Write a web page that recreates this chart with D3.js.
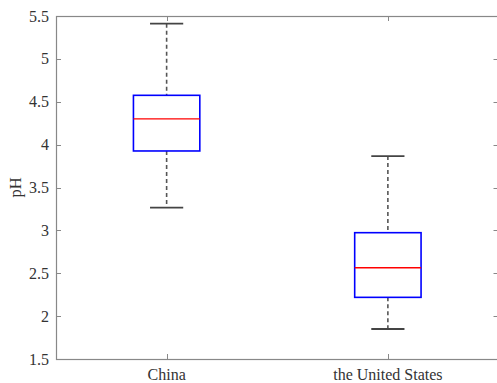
<!DOCTYPE html>
<meta charset="utf-8">
<title>pH boxplot</title>
<style>
    body { margin: 0; background: #fff; }
    svg { display: block; font-family: "Liberation Serif", "Times New Roman", serif; }
</style>
<body>
<script src="https://d3js.org/d3.v7.min.js"></script>
<script>

    // values
    var groups = ["China", "the United States"];
    var whiskerLow = [3.265, 1.85];
    var quart1 = [3.926, 2.219];
    var medians = [4.30, 2.565];
    var quart3 = [4.575, 2.973];
    var whiskerHigh = [5.41, 3.867];
    var yTicks = [1.5, 2, 2.5, 3, 3.5, 4, 4.5, 5, 5.5];

    var width = 497, height = 383;
    var plotLeft = 56, plotRight = 498.5, plotTop = 16, plotBottom = 359;

    var svg = d3.select("body").append("svg")
        .attr("width", width)
        .attr("height", height);

    var x = d3.scaleLinear().domain([0.5, 2.5]).range([plotLeft, plotRight]);
    var y = d3.scaleLinear().domain([1.5, 5.5]).range([plotBottom, plotTop]);

    var axisColor = "#888";
    var textColor = "#333";

    // frame
    svg.append("rect")
        .attr("x", plotLeft + 0.5).attr("y", plotTop + 0.5)
        .attr("width", plotRight - plotLeft).attr("height", plotBottom - plotTop)
        .attr("fill", "none").attr("stroke", axisColor).attr("stroke-width", 1.2);

    // y ticks (inward, both sides)
    var yt = svg.append("g");
    yt.selectAll("line.l").data(yTicks).enter().append("line")
        .attr("x1", plotLeft).attr("x2", plotLeft + 5)
        .attr("y1", function(d) { return Math.round(y(d)) + 0.5; })
        .attr("y2", function(d) { return Math.round(y(d)) + 0.5; })
        .attr("stroke", axisColor);
    yt.selectAll("line.r").data(yTicks).enter().append("line")
        .attr("x1", plotRight - 5).attr("x2", plotRight)
        .attr("y1", function(d) { return Math.round(y(d)) + 0.5; })
        .attr("y2", function(d) { return Math.round(y(d)) + 0.5; })
        .attr("stroke", axisColor);
    yt.selectAll("text").data(yTicks).enter().append("text")
        .attr("x", plotLeft - 7)
        .attr("y", function(d) { return y(d); })
        .attr("dy", "0.35em")
        .attr("text-anchor", "end")
        .attr("font-size", "16px")
        .attr("fill", textColor)
        .text(function(d) { return d; });

    // x ticks
    var xt = svg.append("g");
    xt.selectAll("line.b").data(groups).enter().append("line")
        .attr("x1", function(d, i) { return Math.round(x(i + 1)) + 0.5; })
        .attr("x2", function(d, i) { return Math.round(x(i + 1)) + 0.5; })
        .attr("y1", plotBottom).attr("y2", plotBottom - 5)
        .attr("stroke", axisColor);
    xt.selectAll("line.t").data(groups).enter().append("line")
        .attr("x1", function(d, i) { return Math.round(x(i + 1)) + 0.5; })
        .attr("x2", function(d, i) { return Math.round(x(i + 1)) + 0.5; })
        .attr("y1", plotTop).attr("y2", plotTop + 5)
        .attr("stroke", axisColor);
    xt.selectAll("text").data(groups).enter().append("text")
        .attr("x", function(d, i) { return x(i + 1); })
        .attr("y", 380)
        .attr("text-anchor", "middle")
        .attr("font-size", "16px")
        .attr("fill", textColor)
        .text(function(d) { return d; });

    // y label
    svg.append("text")
        .attr("transform", "translate(21," + y(3.5) + ") rotate(-90)")
        .attr("text-anchor", "middle")
        .attr("font-size", "16.5px")
        .attr("fill", textColor)
        .text("pH");

    // boxes
    var boxW = 0.3, capW = 0.15;
    var g = svg.selectAll("g.box").data(groups).enter().append("g").attr("class", "box");

    g.append("line") // upper whisker
        .attr("x1", function(d, i) { return x(i + 1); })
        .attr("x2", function(d, i) { return x(i + 1); })
        .attr("y1", function(d, i) { return y(whiskerHigh[i]); })
        .attr("y2", function(d, i) { return y(quart3[i]); })
        .attr("stroke", "#555").attr("stroke-width", 1.6)
        .attr("stroke-dasharray", "4,3");
    g.append("line") // lower whisker
        .attr("x1", function(d, i) { return x(i + 1); })
        .attr("x2", function(d, i) { return x(i + 1); })
        .attr("y1", function(d, i) { return y(quart1[i]); })
        .attr("y2", function(d, i) { return y(whiskerLow[i]); })
        .attr("stroke", "#555").attr("stroke-width", 1.6)
        .attr("stroke-dasharray", "4,3");
    g.append("line")
        .attr("x1", function(d, i) { return x(i + 1 - capW / 2); })
        .attr("x2", function(d, i) { return x(i + 1 + capW / 2); })
        .attr("y1", function(d, i) { return y(whiskerHigh[i]); })
        .attr("y2", function(d, i) { return y(whiskerHigh[i]); })
        .attr("stroke", "#444").attr("stroke-width", 1.8);
    g.append("line")
        .attr("x1", function(d, i) { return x(i + 1 - capW / 2); })
        .attr("x2", function(d, i) { return x(i + 1 + capW / 2); })
        .attr("y1", function(d, i) { return y(whiskerLow[i]); })
        .attr("y2", function(d, i) { return y(whiskerLow[i]); })
        .attr("stroke", "#444").attr("stroke-width", 1.8);
    g.append("rect")
        .attr("x", function(d, i) { return x(i + 1 - boxW / 2); })
        .attr("y", function(d, i) { return y(quart3[i]); })
        .attr("width", function(d, i) { return x(i + 1 + boxW / 2) - x(i + 1 - boxW / 2); })
        .attr("height", function(d, i) { return y(quart1[i]) - y(quart3[i]); })
        .attr("fill", "none").attr("stroke", "#0000ff").attr("stroke-width", 1.6);
    g.append("line")
        .attr("x1", function(d, i) { return x(i + 1 - boxW / 2); })
        .attr("x2", function(d, i) { return x(i + 1 + boxW / 2); })
        .attr("y1", function(d, i) { return y(medians[i]); })
        .attr("y2", function(d, i) { return y(medians[i]); })
        .attr("stroke", "#ff0000").attr("stroke-width", 1.4);

</script>
</body>
